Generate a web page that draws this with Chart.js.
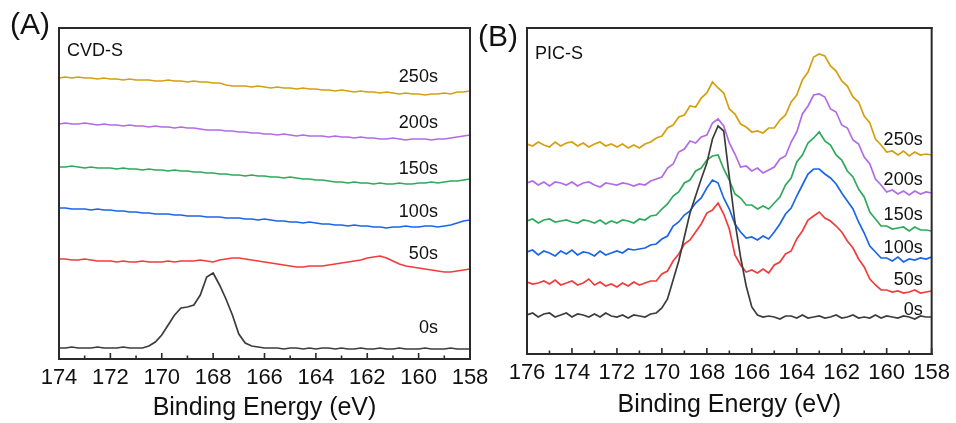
<!DOCTYPE html>
<html>
<head>
<meta charset="utf-8">
<script src="https://cdn.jsdelivr.net/npm/chart.js@4.4.1/dist/chart.umd.min.js"></script>
<style>
  body { margin: 0; background: #fff; }
  #wrap { position: relative; width: 956px; height: 423px; overflow: hidden; background: #fff; }
  canvas { position: absolute; top: 0; }
</style>
</head>
<body>
<div id="wrap">
  <canvas id="chartA" width="500" height="423" style="left:0"></canvas>
  <canvas id="chartB" width="478" height="423" style="left:478px"></canvas>
</div>
<script>
// binding energy grids (eV)
const energyA = [
  174, 173.75, 173.5, 173.25, 173, 172.75, 172.5, 172.25,
  172, 171.75, 171.5, 171.25, 171, 170.75, 170.5, 170.25,
  170, 169.75, 169.5, 169.25, 169, 168.75, 168.5, 168.25,
  168, 167.75, 167.5, 167.25, 167, 166.75, 166.5, 166.25,
  166, 165.75, 165.5, 165.25, 165, 164.75, 164.5, 164.25,
  164, 163.75, 163.5, 163.25, 163, 162.75, 162.5, 162.25,
  162, 161.75, 161.5, 161.25, 161, 160.75, 160.5, 160.25,
  160, 159.75, 159.5, 159.25, 159, 158.75, 158.5, 158.25,
  158
];
const energyB = [
  176, 175.75, 175.5, 175.25, 175, 174.75, 174.5, 174.25,
  174, 173.75, 173.5, 173.25, 173, 172.75, 172.5, 172.25,
  172, 171.75, 171.5, 171.25, 171, 170.75, 170.5, 170.25,
  170, 169.75, 169.5, 169.25, 169, 168.75, 168.5, 168.25,
  168, 167.75, 167.5, 167.25, 167, 166.75, 166.5, 166.25,
  166, 165.75, 165.5, 165.25, 165, 164.75, 164.5, 164.25,
  164, 163.75, 163.5, 163.25, 163, 162.75, 162.5, 162.25,
  162, 161.75, 161.5, 161.25, 161, 160.75, 160.5, 160.25,
  160, 159.75, 159.5, 159.25, 159, 158.75, 158.5, 158.25,
  158
];

const seriesNames = ['0s', '50s', '100s', '150s', '200s', '250s'];
const tickStep = 2;

// (A) CVD-S, stacked intensities (a.u.)
const cvd0 = [
  11, 11, 12, 11, 11, 11, 12, 11,
  11, 11, 12, 11, 11, 11, 13, 17,
  24, 34, 44, 51, 52, 54, 64, 82,
  86, 74, 60, 44, 25, 16, 13, 12,
  11, 11, 11, 10, 11, 11, 10, 11,
  10, 11, 11, 10, 11, 10, 10, 11,
  10, 10, 11, 10, 10, 11, 10, 10,
  10, 11, 10, 10, 10, 11, 10, 10,
  10
];
const cvd50 = [
  100, 100, 99, 99, 100, 99, 98, 98,
  98, 97, 98, 97, 97, 98, 97, 97,
  97, 98, 97, 98, 98, 98, 99, 98,
  97, 99, 100, 101, 101, 100, 99, 98,
  97, 96, 95, 94, 93, 92, 92, 93,
  93, 93, 94, 95, 96, 97, 98, 99,
  101, 102, 103, 101, 98, 95, 93, 92,
  91, 90, 89, 88, 87, 87, 88, 89,
  90
];
const cvd100 = [
  151, 151, 150, 150, 150, 149, 150, 149,
  149, 148, 148, 147, 147, 146, 146, 145,
  145, 145, 144, 144, 143, 143, 143, 142,
  142, 142, 141, 141, 141, 140, 140, 139,
  140, 139, 138, 138, 137, 137, 136, 137,
  136, 135, 135, 134, 134, 133, 134, 133,
  133, 132, 132, 131, 132, 132, 133, 132,
  132, 133, 133, 132, 133, 134, 136, 138,
  139
];
const cvd150 = [
  192, 192, 193, 192, 191, 192, 191, 191,
  191, 190, 191, 190, 190, 189, 190, 189,
  189, 188, 189, 188, 188, 187, 187, 186,
  186, 185, 185, 184, 184, 183, 184, 183,
  183, 182, 182, 181, 182, 181, 180, 180,
  179, 179, 178, 177, 177, 176, 177, 176,
  176, 175, 176, 175, 175, 176, 175, 175,
  176, 176, 177, 176, 177, 178, 178, 179,
  180
];
const cvd200 = [
  235, 236, 235, 235, 236, 235, 234, 235,
  234, 234, 233, 234, 233, 233, 232, 233,
  232, 232, 231, 232, 231, 231, 230, 229,
  229, 229, 228, 228, 227, 227, 226, 226,
  225, 225, 224, 225, 224, 223, 224, 223,
  223, 223, 222, 223, 222, 222, 221, 222,
  221, 221, 220, 220, 221, 220, 219, 220,
  220, 220, 219, 220, 220, 221, 222, 223,
  224
];
const cvd250 = [
  281, 282, 281, 282, 281, 281, 280, 281,
  280, 280, 279, 280, 279, 279, 279, 278,
  278, 279, 278, 278, 277, 278, 277, 277,
  276, 276, 274, 273, 273, 273, 272, 273,
  272, 271, 272, 271, 271, 270, 271, 270,
  270, 269, 269, 268, 269, 268, 267, 268,
  267, 267, 266, 267, 266, 265, 266, 265,
  265, 264, 265, 265, 266, 265, 267, 267,
  268
];

// (B) PIC-S, stacked intensities (a.u.)
const pic0 = [
  39, 41, 37, 40, 41, 37, 39, 41,
  37, 40, 39, 37, 40, 37, 41, 38,
  37, 39, 36, 39, 38, 37, 40, 41,
  46, 55, 74, 93, 117, 141, 158, 175,
  191, 215, 228, 223, 177, 132, 97, 68,
  47, 39, 37, 38, 37, 35, 38, 38,
  36, 39, 36, 37, 38, 36, 37, 39,
  36, 37, 39, 36, 37, 36, 39, 36,
  38, 37, 36, 38, 37, 35, 38, 37,
  37
];
const pic50 = [
  72, 70, 71, 73, 70, 74, 69, 71,
  73, 69, 71, 75, 69, 72, 68, 70,
  67, 71, 68, 72, 69, 71, 73, 73,
  80, 83, 93, 100, 110, 114, 122, 130,
  141, 144, 151, 140, 125, 99, 89, 82,
  84, 81, 85, 81, 89, 92, 100, 103,
  115, 123, 134, 138, 142, 136, 133, 128,
  122, 113, 106, 95, 87, 75, 69, 64,
  64, 62, 63, 61, 62, 64, 61, 62,
  63
];
const pic100 = [
  102, 104, 99, 103, 101, 98, 103, 100,
  104, 99, 102, 101, 98, 103, 99, 101,
  103, 101, 105, 104, 105, 106, 109, 110,
  115, 118, 128, 132, 139, 143, 151, 156,
  166, 174, 171, 156, 145, 130, 122, 116,
  117, 114, 118, 115, 122, 130, 140, 146,
  158, 169, 180, 185, 185, 180, 176, 170,
  161, 153, 145, 132, 121, 108, 102, 96,
  96, 93, 97, 92, 95, 94, 96, 95,
  97
];
const pic150 = [
  133, 135, 131, 134, 135, 132, 133, 134,
  132, 131, 134, 133, 131, 134, 130, 133,
  131, 134, 133, 131, 135, 134, 138, 139,
  145, 150, 158, 162, 171, 174, 183, 186,
  194, 198, 199, 185, 174, 160, 156, 149,
  149, 145, 148, 145, 151, 157, 169, 176,
  192, 199, 211, 216, 222, 213, 209, 199,
  194, 183, 177, 165, 157, 142, 135, 128,
  128, 125, 126, 127, 123, 127, 124, 124,
  123
];
const pic200 = [
  171, 173, 169, 172, 168, 172, 171, 169,
  172, 168, 171, 172, 169, 167, 171, 170,
  169, 171, 170, 168, 170, 169, 173, 175,
  177, 186, 190, 202, 205, 213, 211, 217,
  219, 231, 235, 228, 211, 200, 187, 188,
  183, 186, 181, 184, 187, 195, 198, 212,
  222, 240, 248, 259, 260, 257, 245, 242,
  229, 226, 214, 210, 197, 190, 175, 169,
  162, 164, 160, 163, 159, 163, 160, 162,
  161
];
const pic250 = [
  210, 208, 212, 209, 207, 212, 208, 211,
  212, 208, 211, 207, 210, 212, 208, 210,
  207, 210, 206, 209, 206, 210, 212, 216,
  218, 226, 229, 237, 239, 248, 247, 256,
  261, 272, 266, 261, 245, 240, 230, 227,
  222, 223, 221, 226, 226, 234, 239, 252,
  259, 274, 282, 297, 300, 298, 288, 283,
  273, 268, 257, 252, 238, 231, 215, 209,
  202, 203, 199, 203, 198, 202, 199, 200,
  199
];

const colors = ['#3c3c3c', '#f03c3c', '#1a66e6', '#2eaa5a', '#b26be6', '#d4a010'];
const FONT = '"Liberation Sans", Arial, sans-serif';

function makeSets(energy, series) {
  return series.map((vals, i) => ({
    label: seriesNames[i],
    data: energy.map((e, j) => ({ x: e, y: vals[j] })),
    borderColor: colors[i],
    borderWidth: 1.7,
    pointRadius: 0,
    tension: 0,
    fill: false
  }));
}

// frame, inward ticks and text annotations
const framePlugin = {
  id: 'frame',
  afterDraw(chart, args, o) {
    const { ctx, chartArea: a, scales: { x, y } } = chart;
    const w = 2;
    ctx.save();
    ctx.fillStyle = '#2a2a2a';
    ctx.fillRect(a.left - w / 2, a.top - w / 2, a.right - a.left + w, w);
    ctx.fillRect(a.left - w / 2, a.bottom - w / 2, a.right - a.left + w, w);
    ctx.fillRect(a.left - w / 2, a.top - w / 2, w, a.bottom - a.top + w);
    ctx.fillRect(a.right - w / 2, a.top - w / 2, w, a.bottom - a.top + w);
    ctx.strokeStyle = '#2a2a2a';
    ctx.lineWidth = 1.6;
    ctx.beginPath();
    for (let v = Math.ceil(x.min); v <= x.max; v++) {
      const px = x.getPixelForValue(v);
      const len = v % tickStep === 0 ? 6 : 3.5;
      ctx.moveTo(px, a.bottom);
      ctx.lineTo(px, a.bottom - len);
    }
    ctx.stroke();

    ctx.fillStyle = '#111';
    ctx.textBaseline = 'alphabetic';
    ctx.textAlign = 'left';
    ctx.font = '30px ' + FONT;
    ctx.fillText(o.panel, o.panelX, o.panelY);
    ctx.font = '18px ' + FONT;
    ctx.fillText(o.sample, o.sampleX, o.sampleY);
    ctx.textAlign = 'right';
    seriesNames.forEach((s, i) => {
      ctx.fillText(s, x.getPixelForValue(o.labelX), y.getPixelForValue(o.labelY[i]));
    });
    ctx.restore();
  }
};

function makeChart(id, energy, series, xmin, xmax, ymax, pad, axisH, titlePad, annot) {
  return new Chart(document.getElementById(id), {
    type: 'line',
    data: { datasets: makeSets(energy, series) },
    options: {
      responsive: false,
      animation: false,
      layout: { padding: pad },
      scales: {
        x: {
          type: 'linear',
          reverse: true,
          min: xmin,
          max: xmax,
          grid: { display: false, drawTicks: false },
          border: { display: false },
          ticks: { stepSize: tickStep, color: '#111', padding: 6, font: { family: FONT, size: 22 } },
          title: { display: true, text: 'Binding Energy (eV)', color: '#111', padding: titlePad, font: { family: FONT, size: 25 } },
          afterFit: s => { s.height = axisH; }
        },
        y: { display: false, min: 0, max: ymax }
      },
      plugins: { legend: { display: false }, tooltip: { enabled: false }, frame: annot }
    },
    plugins: [framePlugin]
  });
}

makeChart('chartA', energyA, [cvd0, cvd50, cvd100, cvd150, cvd200, cvd250], 158, 174, 331,
  { left: 59, top: 28, right: 30, bottom: 0 }, 64, { top: 0, bottom: 0 },
  { panel: '(A)', panelX: 10, panelY: 34, sample: 'CVD-S', sampleX: 67, sampleY: 56,
    labelX: 159.25, labelY: [26, 100, 142, 185, 231, 277] });

makeChart('chartB', energyB, [pic0, pic50, pic100, pic150, pic200, pic250], 158, 176, 326,
  { left: 49, top: 28, right: 24, bottom: 0 }, 69, { top: 0, bottom: 3 },
  { panel: '(B)', panelX: 0, panelY: 46, sample: 'PIC-S', sampleX: 57, sampleY: 59,
    labelX: 158.4, labelY: [39, 69, 101, 134, 169, 209] });
</script>
</body>
</html>
